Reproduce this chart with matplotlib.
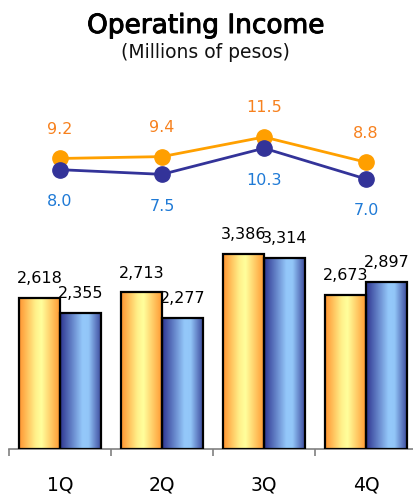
import numpy as np
import matplotlib
matplotlib.use("Agg")
import matplotlib.pyplot as plt
import matplotlib.patheffects as pe
from matplotlib.colors import LinearSegmentedColormap

# Quarterly operating income (millions of pesos)
quarters = ["1Q", "2Q", "3Q", "4Q"]
income_prev = [2618, 2713, 3386, 2673]
income_curr = [2355, 2277, 3314, 2897]

# Operating margin (%)
margin_prev = [9.2, 9.4, 11.5, 8.8]
margin_curr = [8.0, 7.5, 10.3, 7.0]

plt.rcParams["font.family"] = ["DejaVu Sans"]

W, H = 414, 495
fig = plt.figure(figsize=(W / 100, H / 100), dpi=100)

# pixel helpers for axes placement
def px_axes(left, top, right, bottom):
    return [left / W, 1 - bottom / H, (right - left) / W, (bottom - top) / H]

# ---- bar panel ----
ax = fig.add_axes(px_axes(9, 247, 417, 449))
x = np.arange(len(quarters)) + 0.5
bw = 0.40
ax.set_xlim(0, len(quarters))
ax.set_ylim(0, 3500)

orange_cmap = LinearSegmentedColormap.from_list(
    "og", [(0.0, "#FF9430"), (0.40, "#FFF08A"), (0.55, "#FFFF9C"), (1.0, "#FF9A33")])
blue_cmap = LinearSegmentedColormap.from_list(
    "bl", [(0.0, "#2E3590"), (0.55, "#94C8FA"), (0.7, "#92C6F8"), (1.0, "#3E4C9E")])

grad = np.linspace(0, 1, 256).reshape(1, -1)

def gradient_bars(values, offset, cmap):
    bars = ax.bar(x + offset, values, width=bw, color="none",
                  edgecolor="black", linewidth=1.6, zorder=3)
    for b in bars:
        x0, w, h = b.get_x(), b.get_width(), b.get_height()
        im = ax.imshow(grad, cmap=cmap, aspect="auto",
                       extent=(x0, x0 + w, 0, h), zorder=2,
                       interpolation="bicubic")
        im.set_clip_path(b)
    return bars

bars_prev = gradient_bars(income_prev, -bw / 2, orange_cmap)
bars_curr = gradient_bars(income_curr, bw / 2, blue_cmap)

for bars, vals in ((bars_prev, income_prev), (bars_curr, income_curr)):
    for b, v in zip(bars, vals):
        ax.annotate(f"{v:,}", (b.get_x() + b.get_width() / 2, v),
                    xytext=(0, 10.5), textcoords="offset points",
                    ha="center", va="baseline", fontsize=11.5, color="black")

for s in ("top", "right", "left"):
    ax.spines[s].set_visible(False)
ax.spines["bottom"].set_color("#808080")
ax.spines["bottom"].set_linewidth(1.2)
ax.set_yticks([])
ax.set_xticks(np.arange(len(quarters) + 1), minor=True)
ax.set_xticks(x)
ax.set_xticklabels(quarters, fontsize=13.5)
ax.tick_params(axis="x", which="major", length=0, pad=19)
ax.tick_params(axis="x", which="minor", length=5, width=1.2, color="#808080",
               direction="out")
ax.patch.set_alpha(0)

# ---- margin panel ----
lax = fig.add_axes(px_axes(9, 113.7, 417, 244.3))
lax.set_xlim(0, len(quarters))
lax.set_ylim(0, 14)
lax.axis("off")
lax.plot(x, margin_prev, color="#FFA000", linewidth=2, marker="o",
         markersize=11, markerfacecolor="#FF9F00", markeredgecolor="#FF9F00",
         zorder=3)
lax.plot(x, margin_curr, color="#333399", linewidth=2, marker="o",
         markersize=11, markerfacecolor="#333399", markeredgecolor="#333399",
         zorder=4)
for xi, v in zip(x, margin_prev):
    lax.annotate(f"{v:.1f}", (xi, v), xytext=(0, 21), textcoords="offset points",
                 ha="center", va="center", fontsize=11.5, color="#F7811E")
for xi, v in zip(x, margin_curr):
    lax.annotate(f"{v:.1f}", (xi, v), xytext=(0, -23), textcoords="offset points",
                 ha="center", va="center", fontsize=11.5, color="#1F7AD6")

# ---- titles ----
fig.text(206 / W, 1 - 33 / H, "Operating Income", ha="center", va="baseline",
         fontsize=19, color="black",
         path_effects=[pe.withStroke(linewidth=0.7, foreground="black")])
fig.text(205 / W, 1 - 57.5 / H, "(Millions of pesos)", ha="center",
         va="baseline", fontsize=13.5, color="#111111")

fig.savefig("out.png", dpi=100)
